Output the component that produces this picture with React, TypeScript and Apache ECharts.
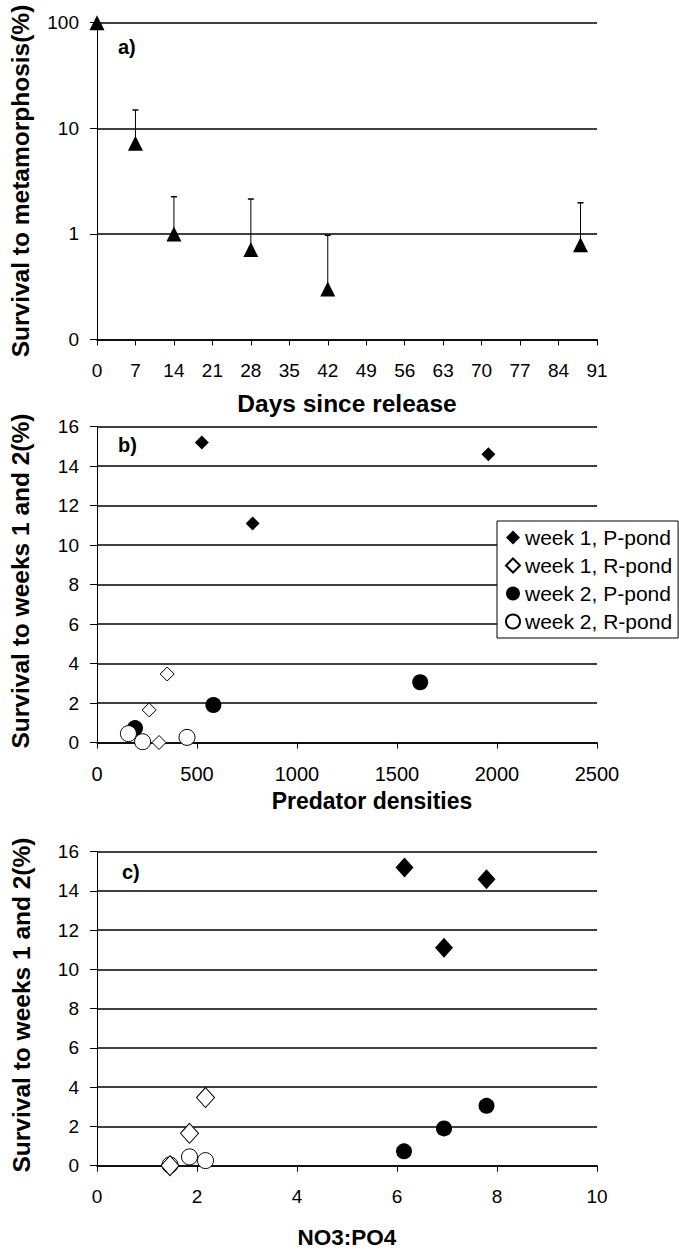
import React, { useEffect, useRef } from "react";
import * as echarts from "echarts";

const FONT = '"Liberation Sans", Arial, Helvetica, sans-serif';

// Panel a: survival to metamorphosis (log scale)
const dayTicks = [0, 7, 14, 21, 28, 35, 42, 49, 56, 63, 70, 77, 84, 91];
const metaDays = [0, 7, 14, 28, 42, 88];
const metaSurvival = [100, 7.2, 1.0, 0.71, 0.3, 0.79];
const metaUpper: (number | null)[] = [null, 14.9, 2.25, 2.14, 0.97, 1.97];

// Panel b: predator densities
const predW1P = [[524, 15.2], [1957, 14.6], [778, 11.1]];
const predW1R = [[351, 3.47], [261, 1.65], [310, 0]];
const predW2P = [[1616, 3.05], [582, 1.9], [190, 0.73]];
const predW2R = [[157, 0.45], [228, 0.04], [450, 0.26]];

// Panel c: NO3:PO4
const ratioW1P = [[6.15, 15.2], [7.79, 14.6], [6.94, 11.1]];
const ratioW1R = [[2.17, 3.47], [1.85, 1.65], [1.46, 0]];
const ratioW2P = [[7.79, 3.05], [6.94, 1.9], [6.14, 0.73]];
const ratioW2R = [[1.85, 0.45], [2.17, 0.26], [1.46, 0.04]];

const seriesNames = ["week 1, P-pond", "week 1, R-pond", "week 2, P-pond", "week 2, R-pond"];

const GRID_LEFT = 97;
const GRID_W = 500;

export default function App() {
  const ref = useRef<HTMLDivElement>(null);

  useEffect(() => {
    if (!ref.current) return;
    const chart = echarts.init(ref.current, null, { renderer: "svg" });

    const black = "#000";
    const tickLabel = (size: number) => ({
      color: black,
      fontSize: size,
      fontFamily: FONT,
    });

    const errData = metaDays
      .map((d, i) => [d, metaSurvival[i], metaUpper[i]])
      .filter((r) => r[2] !== null);

    const xAxisBase = (gridIndex: number, min: number, max: number, interval: number, size: number) => ({
      type: "value",
      gridIndex,
      min,
      max,
      interval,
      axisLine: { show: true, onZero: false, lineStyle: { color: black, width: 1.5 } },
      axisTick: { show: true, length: 6, lineStyle: { color: black, width: 1 } },
      splitLine: { show: false },
      axisLabel: { ...tickLabel(size), margin: 21, formatter: (v: number) => String(v) },
    });

    const yLinear = (gridIndex: number) => ({
      type: "value",
      gridIndex,
      min: 0,
      max: 16,
      interval: 2,
      axisLine: { show: true, onZero: false, lineStyle: { color: black, width: 1 } },
      axisTick: { show: true, length: 7, lineStyle: { color: black, width: 1 } },
      splitLine: { show: true, lineStyle: { color: black, width: 1.5 } },
      axisLabel: { ...tickLabel(19), margin: 18, formatter: (v: number) => String(v) },
    });

    const filled = { color: black, opacity: 1 };
    const openStyle = { color: "#fff", borderColor: black, borderWidth: 1, opacity: 1 };

    const scatterSet = (xi: number, data: number[][][], diamondSize: any, circleSize: number, z: number[]) => [
      { name: seriesNames[0], type: "scatter", xAxisIndex: xi, yAxisIndex: xi, data: data[0], symbol: "diamond", symbolSize: diamondSize, itemStyle: filled, clip: false, z: z[0] },
      { name: seriesNames[1], type: "scatter", xAxisIndex: xi, yAxisIndex: xi, data: data[1], symbol: "diamond", symbolSize: diamondSize, itemStyle: openStyle, clip: false, z: z[1] },
      { name: seriesNames[2], type: "scatter", xAxisIndex: xi, yAxisIndex: xi, data: data[2], symbol: "circle", symbolSize: circleSize, itemStyle: filled, clip: false, z: z[2] },
      { name: seriesNames[3], type: "scatter", xAxisIndex: xi, yAxisIndex: xi, data: data[3], symbol: "circle", symbolSize: circleSize, itemStyle: openStyle, clip: false, z: z[3] },
    ];

    const titleText = (text: string, x: number, y: number, size: number, rotate = false) => ({
      type: "text",
      x,
      y,
      rotation: rotate ? Math.PI / 2 : 0,
      z: 10,
      style: {
        text,
        fill: black,
        fontSize: size,
        fontWeight: "bold",
        fontFamily: FONT,
        align: "center",
        verticalAlign: "middle",
      },
    });

    const panelLetter = (text: string, x: number, y: number) => ({
      type: "text",
      x,
      y,
      z: 10,
      style: {
        text,
        fill: black,
        fontSize: 20,
        fontWeight: "bold",
        fontFamily: FONT,
        align: "left",
        verticalAlign: "middle",
      },
    });

    const option: any = {
      animation: false,
      backgroundColor: "#fff",
      textStyle: { fontFamily: FONT },
      grid: [
        { left: GRID_LEFT, top: 22.7, width: GRID_W, height: 316.8 },
        { left: GRID_LEFT, top: 426.7, width: GRID_W, height: 315.8 },
        { left: GRID_LEFT, top: 851.7, width: GRID_W, height: 314 },
      ],
      xAxis: [
        { ...xAxisBase(0, dayTicks[0], dayTicks[dayTicks.length - 1], 7, 19) },
        { ...xAxisBase(1, 0, 2500, 500, 20) },
        { ...xAxisBase(2, 0, 10, 2, 19) },
      ],
      yAxis: [
        {
          type: "log",
          gridIndex: 0,
          logBase: 10,
          min: 0.1,
          max: 100,
          axisLine: { show: true, onZero: false, lineStyle: { color: black, width: 1 } },
          axisTick: { show: true, length: 7, lineStyle: { color: black, width: 1 } },
          splitLine: { show: true, lineStyle: { color: black, width: 1.5 } },
          axisLabel: {
            ...tickLabel(19),
            margin: 18,
            formatter: (v: number) => (v < 0.5 ? "0" : String(Math.round(v))),
          },
        },
        yLinear(1),
        yLinear(2),
      ],
      legend: {
        data: seriesNames,
        orient: "vertical",
        left: 497,
        top: 521,
        itemWidth: 14,
        itemHeight: 14,
        itemGap: 7,
        padding: [6, 6, 6, 8],
        borderColor: black,
        borderWidth: 1,
        borderRadius: 0,
        backgroundColor: "#fff",
        selectedMode: false,
        textStyle: { color: black, fontSize: 21, fontFamily: FONT },
      },
      series: [
        {
          name: "error",
          type: "custom",
          xAxisIndex: 0,
          yAxisIndex: 0,
          data: errData,
          encode: { x: 0, y: [1, 2] },
          silent: true,
          z: 1,
          renderItem: (_params: any, api: any) => {
            const x = api.value(0);
            const lo = api.value(1);
            const hi = api.value(2);
            const p0 = api.coord([x, lo]);
            const p1 = api.coord([x, hi]);
            return {
              type: "group",
              children: [
                { type: "line", shape: { x1: p0[0], y1: p0[1], x2: p1[0], y2: p1[1] }, style: { stroke: black, lineWidth: 1 } },
                { type: "line", shape: { x1: p1[0] - 3, y1: p1[1], x2: p1[0] + 3, y2: p1[1] }, style: { stroke: black, lineWidth: 1.5 } },
              ],
            };
          },
        },
        {
          name: "survival",
          type: "scatter",
          xAxisIndex: 0,
          yAxisIndex: 0,
          data: metaDays.map((d, i) => [d, metaSurvival[i]]),
          symbol: "triangle",
          symbolSize: 15,
          itemStyle: { color: black, opacity: 1 },
          clip: false,
          z: 3,
        },
        ...scatterSet(1, [predW1P, predW1R, predW2P, predW2R], 14, 16, [3, 3, 3, 3]),
        ...scatterSet(2, [ratioW1P, ratioW1R, ratioW2P, ratioW2R], [18, 20], 16, [4, 4, 3, 3]),
      ],
      graphic: [
        titleText("Survival to metamorphosis(%)", 20, 181, 24.5, true),
        titleText("Survival to weeks 1 and 2(%)", 20, 581, 24.5, true),
        titleText("Survival to weeks 1 and 2(%)", 21, 1005, 24.5, true),
        titleText("Days since release", 347, 403, 24.5),
        titleText("Predator densities", 372, 801, 23),
        titleText("NO3:PO4", 347, 1237, 22.5),
        panelLetter("a)", 118, 47),
        panelLetter("b)", 118, 445),
        panelLetter("c)", 122, 872),
      ],
    };

    chart.setOption(option);
    return () => chart.dispose();
  }, []);

  return (
    <div
      ref={ref}
      style={{ position: "absolute", left: 0, top: 0, width: 679, height: 1250, background: "#fff" }}
    />
  );
}
